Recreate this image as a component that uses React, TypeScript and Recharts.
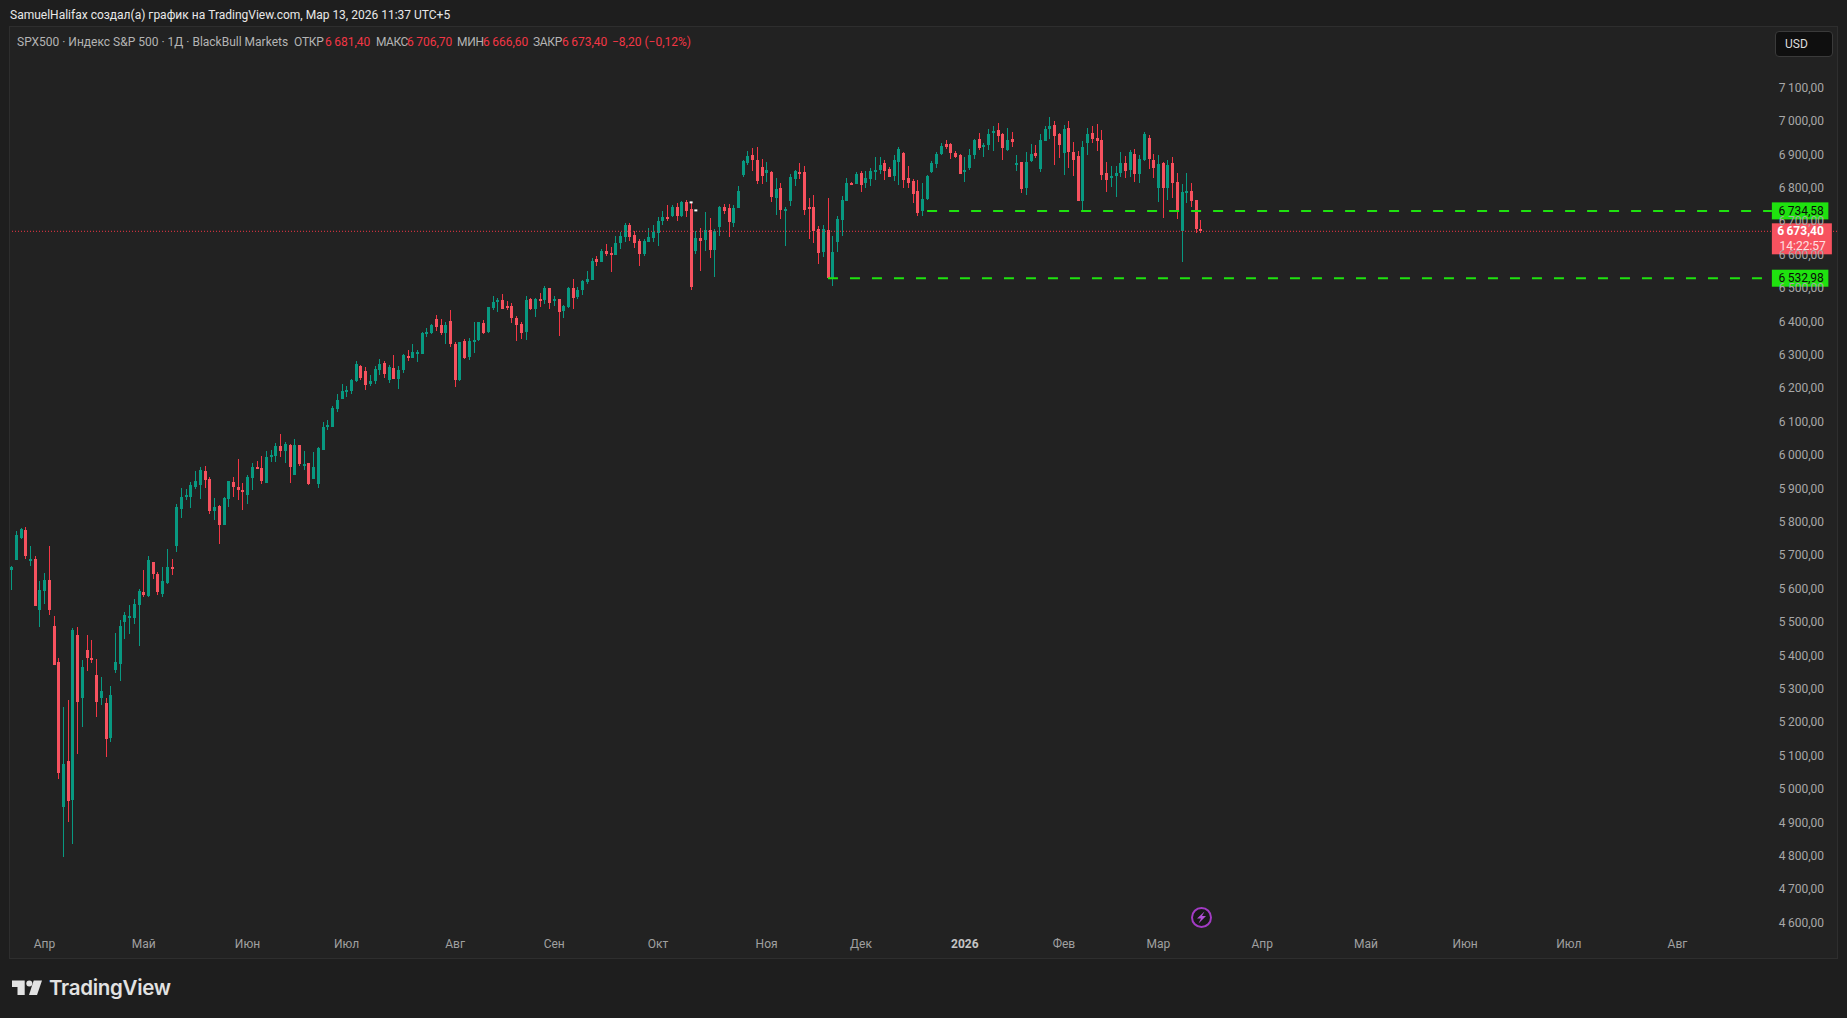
import { Bar, ComposedChart, ReferenceDot, ReferenceLine, XAxis, YAxis } from "recharts";

const opens = [
  5659, 5689, 5755, 5779, 5686, 5692, 5539, 5596, 5629, 5491,
  5383, 4951, 5089, 4972, 5464, 5275, 5419, 5395, 5344, 5275,
  5260, 5155, 5359, 5377, 5503, 5515, 5515, 5554, 5593, 5581,
  5683, 5647, 5587, 5620, 5668, 5732, 5843, 5879, 5879, 5909,
  5915, 5957, 5933, 5837, 5852, 5795, 5873, 5924, 5909, 5900,
  5885, 5936, 5969, 5966, 5921, 6002, 6002, 6032, 6017, 6035,
  5945, 6035, 5972, 5981, 5933, 5918, 6020, 6089, 6089, 6140,
  6170, 6194, 6194, 6224, 6269, 6254, 6215, 6224, 6257, 6278,
  6227, 6263, 6230, 6257, 6299, 6293, 6308, 6305, 6368, 6368,
  6410, 6392, 6368, 6404, 6335, 6227, 6344, 6296, 6344, 6347,
  6398, 6371, 6443, 6461, 6467, 6449, 6449, 6413, 6395, 6371,
  6470, 6440, 6470, 6467, 6503, 6467, 6470, 6434, 6446, 6503,
  6476, 6497, 6521, 6527, 6590, 6581, 6614, 6608, 6602, 6638,
  6656, 6692, 6662, 6644, 6605, 6641, 6653, 6668, 6704, 6716,
  6719, 6746, 6719, 6761, 6740, 6614, 6653, 6647, 6677, 6617,
  6686, 6746, 6743, 6698, 6743, 6842, 6878, 6902, 6887, 6866,
  6848, 6851, 6773, 6803, 6737, 6764, 6830, 6851, 6851, 6746,
  6746, 6680, 6611, 6677, 6533, 6641, 6707, 6764, 6818, 6815,
  6848, 6818, 6830, 6854, 6857, 6878, 6860, 6839, 6881, 6908,
  6833, 6824, 6794, 6734, 6770, 6851, 6875, 6905, 6935, 6935,
  6907, 6901, 6853, 6862, 6901, 6949, 6928, 6931, 6967, 6976,
  6964, 6916, 6949, 6874, 6880, 6802, 6883, 6907, 6859, 6943,
  6979, 6991, 6964, 6907, 6982, 6910, 6898, 6763, 6937, 6967,
  6952, 6946, 6847, 6832, 6838, 6847, 6877, 6856, 6904, 6844,
  6886, 6952, 6886, 6802, 6877, 6802, 6877, 6820, 6673, 6790,
  6793, 6766, 6681.4,
];

const highs = [
  5671, 5775, 5785, 5787, 5731, 5701, 5626, 5650, 5731, 5521,
  5395, 5248, 5269, 5485, 5488, 5389, 5464, 5449, 5392, 5338,
  5275, 5311, 5470, 5509, 5533, 5554, 5572, 5602, 5659, 5701,
  5683, 5653, 5668, 5722, 5692, 5858, 5905, 5902, 5924, 5957,
  5969, 5972, 5939, 5875, 5855, 5879, 5927, 5939, 5993, 5921,
  5945, 5981, 5987, 6002, 6017, 6020, 6041, 6068, 6044, 6038,
  6053, 6035, 6017, 5981, 6014, 6029, 6101, 6107, 6149, 6185,
  6215, 6209, 6230, 6284, 6272, 6266, 6242, 6269, 6290, 6284,
  6272, 6302, 6269, 6305, 6317, 6335, 6317, 6371, 6383, 6395,
  6422, 6410, 6401, 6437, 6341, 6341, 6350, 6353, 6401, 6401,
  6407, 6446, 6479, 6473, 6485, 6464, 6458, 6419, 6401, 6479,
  6473, 6473, 6488, 6509, 6503, 6479, 6470, 6452, 6506, 6530,
  6506, 6527, 6554, 6593, 6599, 6620, 6635, 6626, 6659, 6671,
  6698, 6698, 6674, 6650, 6650, 6683, 6692, 6716, 6734, 6752,
  6752, 6758, 6764, 6767, 6761, 6674, 6683, 6731, 6713, 6680,
  6749, 6755, 6755, 6752, 6809, 6887, 6914, 6923, 6926, 6890,
  6881, 6854, 6833, 6818, 6746, 6845, 6857, 6878, 6869, 6773,
  6782, 6689, 6692, 6773, 6659, 6719, 6779, 6833, 6821, 6851,
  6854, 6854, 6863, 6896, 6896, 6887, 6866, 6902, 6926, 6911,
  6869, 6830, 6827, 6818, 6842, 6884, 6911, 6938, 6947, 6938,
  6914, 6904, 6895, 6919, 6949, 6967, 6937, 6979, 6988, 6997,
  6967, 6982, 6970, 6901, 6880, 6910, 6934, 6931, 6964, 6988,
  7015, 7003, 6967, 6991, 7003, 6940, 6913, 6943, 6982, 6988,
  6994, 6976, 6880, 6868, 6868, 6910, 6898, 6916, 6919, 6901,
  6970, 6961, 6904, 6901, 6880, 6886, 6895, 6847, 6814, 6847,
  6817, 6766, 6706.7,
];

const lows = [
  5599, 5689, 5752, 5692, 5671, 5551, 5488, 5557, 5524, 5374,
  5032, 4798, 4903, 4837, 5107, 5188, 5356, 5380, 5218, 5254,
  5098, 5143, 5350, 5326, 5452, 5467, 5497, 5431, 5578, 5578,
  5632, 5584, 5578, 5617, 5644, 5714, 5816, 5870, 5846, 5903,
  5873, 5906, 5828, 5810, 5738, 5795, 5849, 5879, 5870, 5840,
  5858, 5900, 5963, 5918, 5921, 5984, 5984, 5999, 5981, 5921,
  5945, 5972, 5960, 5915, 5933, 5906, 6020, 6077, 6089, 6131,
  6170, 6176, 6185, 6221, 6227, 6197, 6209, 6215, 6242, 6233,
  6218, 6230, 6200, 6248, 6284, 6293, 6281, 6305, 6356, 6365,
  6374, 6362, 6335, 6326, 6206, 6224, 6290, 6287, 6308, 6344,
  6365, 6368, 6437, 6431, 6440, 6437, 6398, 6344, 6350, 6347,
  6437, 6416, 6446, 6455, 6440, 6449, 6359, 6413, 6443, 6440,
  6470, 6482, 6515, 6527, 6569, 6581, 6599, 6551, 6602, 6620,
  6641, 6644, 6623, 6569, 6599, 6641, 6641, 6629, 6692, 6704,
  6716, 6704, 6716, 6716, 6497, 6605, 6554, 6614, 6593, 6536,
  6659, 6725, 6656, 6686, 6743, 6836, 6872, 6854, 6815, 6815,
  6821, 6761, 6722, 6710, 6629, 6749, 6809, 6830, 6722, 6650,
  6638, 6575, 6596, 6533, 6509, 6611, 6659, 6764, 6812, 6815,
  6791, 6803, 6809, 6827, 6845, 6827, 6836, 6824, 6812, 6803,
  6803, 6758, 6719, 6719, 6767, 6848, 6863, 6902, 6920, 6890,
  6893, 6844, 6820, 6856, 6889, 6916, 6895, 6916, 6913, 6940,
  6886, 6913, 6925, 6853, 6787, 6781, 6880, 6892, 6850, 6943,
  6949, 6871, 6892, 6841, 6862, 6838, 6763, 6730, 6901, 6937,
  6913, 6826, 6790, 6805, 6775, 6835, 6832, 6835, 6820, 6817,
  6883, 6859, 6832, 6760, 6712, 6766, 6772, 6709, 6580, 6757,
  6745, 6667, 6666.6,
];

const closes = [
  5668, 5764, 5782, 5701, 5692, 5551, 5599, 5629, 5539, 5374,
  5053, 5080, 4969, 5479, 5263, 5368, 5395, 5392, 5263, 5296,
  5152, 5284, 5383, 5491, 5524, 5521, 5557, 5596, 5584, 5689,
  5647, 5593, 5626, 5668, 5662, 5849, 5879, 5885, 5915, 5927,
  5960, 5930, 5837, 5849, 5795, 5876, 5927, 5909, 5900, 5897,
  5939, 5969, 5965, 5927, 5999, 6005, 6032, 6017, 6038, 5969,
  6035, 5978, 5978, 5918, 5969, 6026, 6089, 6092, 6143, 6167,
  6194, 6197, 6227, 6275, 6233, 6212, 6224, 6260, 6275, 6245,
  6266, 6230, 6257, 6302, 6293, 6311, 6311, 6368, 6371, 6392,
  6386, 6368, 6392, 6335, 6227, 6341, 6293, 6344, 6347, 6401,
  6368, 6446, 6461, 6467, 6440, 6446, 6413, 6392, 6368, 6467,
  6440, 6470, 6467, 6503, 6458, 6470, 6431, 6449, 6503, 6473,
  6497, 6524, 6530, 6584, 6581, 6614, 6605, 6602, 6638, 6659,
  6692, 6656, 6638, 6605, 6644, 6656, 6671, 6704, 6716, 6713,
  6746, 6719, 6761, 6734, 6506, 6653, 6644, 6677, 6617, 6674,
  6746, 6734, 6701, 6743, 6794, 6884, 6899, 6887, 6824, 6839,
  6857, 6776, 6800, 6737, 6740, 6836, 6854, 6848, 6737, 6743,
  6674, 6608, 6680, 6533, 6611, 6710, 6767, 6818, 6815, 6845,
  6812, 6833, 6854, 6857, 6872, 6854, 6836, 6887, 6920, 6827,
  6818, 6785, 6728, 6770, 6839, 6878, 6905, 6929, 6926, 6908,
  6896, 6844, 6856, 6901, 6946, 6922, 6931, 6964, 6973, 6958,
  6922, 6946, 6940, 6877, 6799, 6880, 6904, 6898, 6946, 6979,
  6988, 6958, 6931, 6979, 6910, 6886, 6763, 6925, 6964, 6949,
  6943, 6841, 6826, 6838, 6847, 6877, 6853, 6910, 6844, 6889,
  6964, 6889, 6862, 6874, 6802, 6871, 6817, 6730, 6790, 6793,
  6763, 6679, 6673.4,
];

const monthBars = [7, 28, 50, 71, 94, 115, 137, 160, 180, 202, 223, 243, 265, 287, 308, 330, 353];
const monthLabels = ["Апр", "Май", "Июн", "Июл", "Авг", "Сен", "Окт", "Ноя", "Дек", "2026", "Фев", "Мар", "Апр", "Май", "Июн", "Июл", "Авг"];
const priceTicks = [4600, 4700, 4800, 4900, 5000, 5100, 5200, 5300, 5400, 5500, 5600, 5700, 5800, 5900, 6000, 6100, 6200, 6300, 6400, 6500, 6600, 6700, 6800, 6900, 7000, 7100];

const upperLevel = 6734.58;
const lowerLevel = 6532.98;
const lastPrice = 6673.4;
const countdown = "14:22:57";
const upperStartBar = 194;
const lowerStartBar = 173;
const levelEndBar = 373;
const badgeBar = 373;
const markerBars = [144, 145];
const markerPrices = [6760, 6736];

const rows = opens.map((open, i) => ({ idx: i, open, high: highs[i], low: lows[i], close: closes[i] }));

const UP = "#089981";
const DOWN = "#f7525f";
const DOWN_WICK = "#f23645";
const LEVEL = "#1fe20f";
const FONT = "Roboto, sans-serif";

const fmtPrice = (v: number) => {
  const s = v.toFixed(2).replace(".", ",");
  return s.slice(0, 1) + "\u2009" + s.slice(1);
};

function Candle(props: any) {
  const { x, y, width, height, payload } = props;
  const { open, high, low, close } = payload;
  const toY = (p: number) => y + ((high - p) / (high - low)) * height;
  const px = Math.floor(x + width / 2);
  const up = close >= open;
  const top = Math.round(toY(Math.max(open, close)));
  const bottom = Math.round(toY(Math.min(open, close)));
  return (
    <g shapeRendering="crispEdges">
      <rect x={px} y={Math.round(y)} width={1} height={Math.max(1, Math.round(height))} fill={up ? UP : DOWN_WICK} />
      <rect x={px - 1} y={top} width={3} height={Math.max(2, bottom - top)} fill={up ? UP : DOWN} />
    </g>
  );
}

function MonthTick(props: any) {
  const { x, y, index } = props;
  const label = monthLabels[index];
  return (
    <text x={x} y={y - 2} textAnchor="middle" fontFamily={FONT} fontSize={12} fontWeight={label === "2026" ? 700 : 400} fill={label === "2026" ? "#c4c4c4" : "#a0a0a0"}>
      {label}
    </text>
  );
}

function PriceTick(props: any) {
  const { y, payload } = props;
  return (
    <text x={1824} y={y + 3} textAnchor="end" fontFamily={FONT} fontSize={12} fill="#a8a8a8">
      {fmtPrice(payload.value)}
    </text>
  );
}

function LevelBadge(props: any) {
  const { cx, cy, value } = props;
  return (
    <g>
      <rect x={cx} y={cy - 8.5} width={56.5} height={17} fill={LEVEL} />
      <text x={cx + 52} y={cy + 4} textAnchor="end" fontFamily={FONT} fontSize={12} fill="#0a0a0a">
        {fmtPrice(value)}
      </text>
    </g>
  );
}

function LastBadge(props: any) {
  const { cx, cy, value } = props;
  return (
    <g>
      <rect x={cx} y={cy - 8} width={60} height={31} fill={DOWN} />
      <text x={cx + 52} y={cy + 4} textAnchor="end" fontFamily={FONT} fontSize={12} fontWeight={700} fill="#ffffff">
        {fmtPrice(value)}
      </text>
      <text x={cx + 54} y={cy + 19} textAnchor="end" fontFamily={FONT} fontSize={12} fill="#ffe0e3">
        {countdown}
      </text>
    </g>
  );
}

function WhiteMark(props: any) {
  return <rect x={props.cx - 1.5} y={props.cy - 1} width={3} height={2} fill="#ffffff" />;
}

const legendParts: [string, number, string, number][] = [
  ["SPX500 · Индекс S&P 500 · 1Д · BlackBull Markets", 17, "#b4b4b4", 0],
  ["ОТКР", 294, "#b4b4b4", -0.2],
  ["6\u2009681,40", 325, DOWN_WICK, 0],
  ["МАКС", 376, "#b4b4b4", -0.5],
  ["6\u2009706,70", 407, DOWN_WICK, 0],
  ["МИН", 457, "#b4b4b4", -0.3],
  ["6\u2009666,60", 483, DOWN_WICK, 0],
  ["ЗАКР", 533, "#b4b4b4", -0.3],
  ["6\u2009673,40", 562, DOWN_WICK, 0],
  ["−8,20 (−0,12%)", 612, DOWN_WICK, 0],
];

export default function App() {
  return (
    <div style={{ position: "fixed", left: 0, top: 0, width: 1847, height: 1018, background: "#1e1e1e", fontFamily: FONT, overflow: "hidden" }}>
      <div style={{ position: "absolute", left: 9, top: 26, width: 1829, height: 933, background: "#222222", border: "1px solid #2e2e2e", boxSizing: "border-box" }} />
      <div style={{ position: "absolute", left: 10, top: 8, fontSize: 12, color: "#e8e8e8", whiteSpace: "nowrap" }}>
        SamuelHalifax создал(а) график на TradingView.com, Мар 13, 2026 11:37 UTC+5
      </div>
      {legendParts.map(([text, left, color, spacing], i) => (
        <div key={i} style={{ position: "absolute", left, top: 35, fontSize: 12, letterSpacing: spacing, color, whiteSpace: "nowrap" }}>
          {text}
        </div>
      ))}
      <div style={{ position: "absolute", left: 0, top: 0 }}>
        <ComposedChart width={1847} height={1018} data={rows} margin={{ top: 27, right: 10, bottom: 60, left: 10 }} barCategoryGap={0}>
          <XAxis
            dataKey="idx"
            type="number"
            domain={[-0.318, 386.8]}
            ticks={monthBars}
            interval={0}
            tick={<MonthTick />}
            axisLine={false}
            tickLine={false}
            mirror
            allowDataOverflow
          />
          <YAxis
            orientation="right"
            type="number"
            domain={[4497.7, 7285.1]}
            ticks={priceTicks}
            interval={0}
            tick={<PriceTick />}
            axisLine={false}
            tickLine={false}
            mirror
            allowDataOverflow
          />
          <ReferenceLine y={lastPrice} stroke={DOWN_WICK} strokeWidth={1} strokeDasharray="1 2" segment={[{ x: -0.3, y: lastPrice }, { x: levelEndBar, y: lastPrice }]} />
          <Bar dataKey={(d: any) => [d.low, d.high]} barSize={3} shape={<Candle />} isAnimationActive={false} />
          <ReferenceLine stroke={LEVEL} strokeWidth={2} strokeDasharray="10 12" segment={[{ x: upperStartBar, y: upperLevel }, { x: levelEndBar, y: upperLevel }]} />
          <ReferenceLine stroke={LEVEL} strokeWidth={2} strokeDasharray="10 12" segment={[{ x: lowerStartBar, y: lowerLevel }, { x: levelEndBar, y: lowerLevel }]} />
          {markerBars.map((b, i) => (
            <ReferenceDot key={b} x={b} y={markerPrices[i]} shape={<WhiteMark />} />
          ))}
          <ReferenceDot x={badgeBar} y={upperLevel} ifOverflow="visible" shape={(p: any) => <LevelBadge {...p} value={upperLevel} />} />
          <ReferenceDot x={badgeBar} y={lowerLevel} ifOverflow="visible" shape={(p: any) => <LevelBadge {...p} value={lowerLevel} />} />
          <ReferenceDot x={badgeBar} y={lastPrice} ifOverflow="visible" shape={(p: any) => <LastBadge {...p} value={lastPrice} />} />
        </ComposedChart>
      </div>
      <div style={{ position: "absolute", left: 1775, top: 31, width: 58, height: 26, boxSizing: "border-box", background: "#0f0f0f", border: "1px solid #3a3a3a", borderRadius: 4, color: "#dcdcdc", fontSize: 12, lineHeight: "24px", paddingLeft: 9 }}>
        USD
      </div>
      <svg style={{ position: "absolute", left: 0, top: 0, pointerEvents: "none" }} width={1847} height={1018}>
        <circle cx={1201.5} cy={917.5} r={9.5} fill="#191919" stroke="#a23bc4" strokeWidth={2} />
        <path d="M1204.5 911.5 L1197 918.5 H1201 L1198.5 923.5 L1206 916 H1202 Z" fill="#b24fd6" />
        <path d="M12 980.5 H24.7 V995 H17.5 V987 H12 Z" fill="#e2e2e2" />
        <circle cx={29.3} cy={983.5} r={3} fill="#e2e2e2" />
        <path d="M33.7 980.5 H42 L37 995 H29 Z" fill="#e2e2e2" />
      </svg>
      <div style={{ position: "absolute", left: 49, top: 975, fontFamily: "Inter, sans-serif", fontWeight: 600, fontSize: 20.5, letterSpacing: -0.3, color: "#e2e2e2", whiteSpace: "nowrap" }}>
        TradingView
      </div>
    </div>
  );
}
